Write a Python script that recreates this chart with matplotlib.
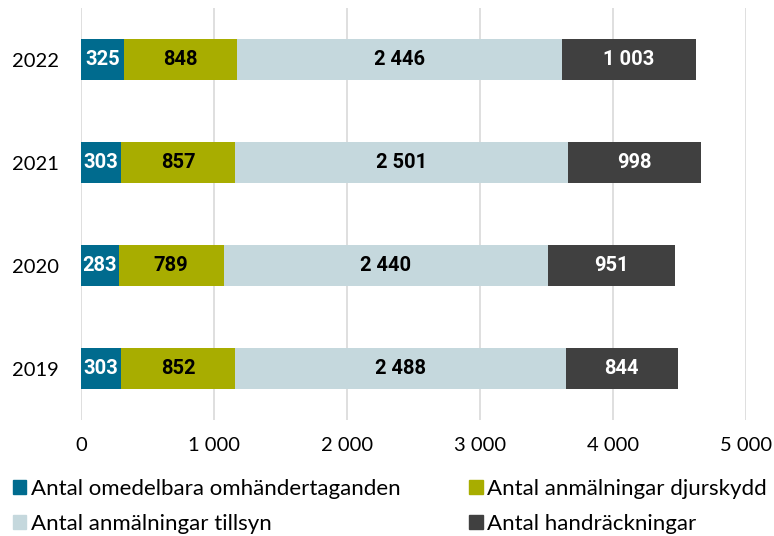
import matplotlib.pyplot as plt
from matplotlib.patches import Patch

plt.rcParams['font.family'] = ['Lato', 'DejaVu Sans']

years = ['2019', '2020', '2021', '2022']
omedelbara = [303, 283, 303, 325]
djurskydd = [852, 789, 857, 848]
tillsyn = [2488, 2440, 2501, 2446]
handrackningar = [844, 951, 998, 1003]

series = [
    ('Antal omedelbara omhändertaganden', omedelbara, '#006B8E', 'white'),
    ('Antal anmälningar djurskydd', djurskydd, '#A8AD00', 'black'),
    ('Antal anmälningar tillsyn', tillsyn, '#C5D8DD', 'black'),
    ('Antal handräckningar', handrackningar, '#404040', 'white'),
]

def fmt(v):
    return f'{v:,}'.replace(',', ' ')

fig = plt.figure(figsize=(7.74, 5.36), dpi=100)
ax = fig.add_axes([0.1047, 0.2164, 0.8591, 0.7686])

ypos = list(range(len(years)))
left = [0] * len(years)
for name, vals, color, tcolor in series:
    bars = ax.barh(ypos, vals, left=left, height=0.4, color=color, zorder=3)
    for b, v in zip(bars, vals):
        ax.text(b.get_x() + b.get_width() / 2, b.get_y() + b.get_height() / 2,
                fmt(v), ha='center', va='center', color=tcolor,
                family=['Roboto', 'DejaVu Sans'],
                fontsize=14.5, fontweight='bold', zorder=4)
    left = [l + v for l, v in zip(left, vals)]

ax.set_xlim(0, 5000)
ax.set_ylim(-0.5, 3.5)
ax.set_xticks(range(0, 5001, 1000))
ax.set_xticklabels([fmt(x) for x in range(0, 5001, 1000)])
ax.set_yticks(ypos)
ax.set_yticklabels(years)
ax.tick_params(axis='both', length=0, labelsize=14.5)
ax.tick_params(axis='x', pad=12)
ax.tick_params(axis='y', pad=16)
ax.grid(axis='x', color='#D9D9D9', linewidth=1.2, zorder=0)
for s in ax.spines.values():
    s.set_visible(False)

handles = [Patch(color=c) for _, _, c, _ in series]
labels = [n for n, _, _, _ in series]
order = [0, 2, 1, 3]
fig.legend([handles[i] for i in order], [labels[i] for i in order],
           ncol=2, loc='upper left', bbox_to_anchor=(0.017, 0.107),
           frameon=False, fontsize=16, handlelength=0.6, handleheight=0.6,
           handletextpad=0.2, columnspacing=3.1, labelspacing=0.7,
           borderpad=0, borderaxespad=0)

fig.savefig('out.png', dpi=100)
